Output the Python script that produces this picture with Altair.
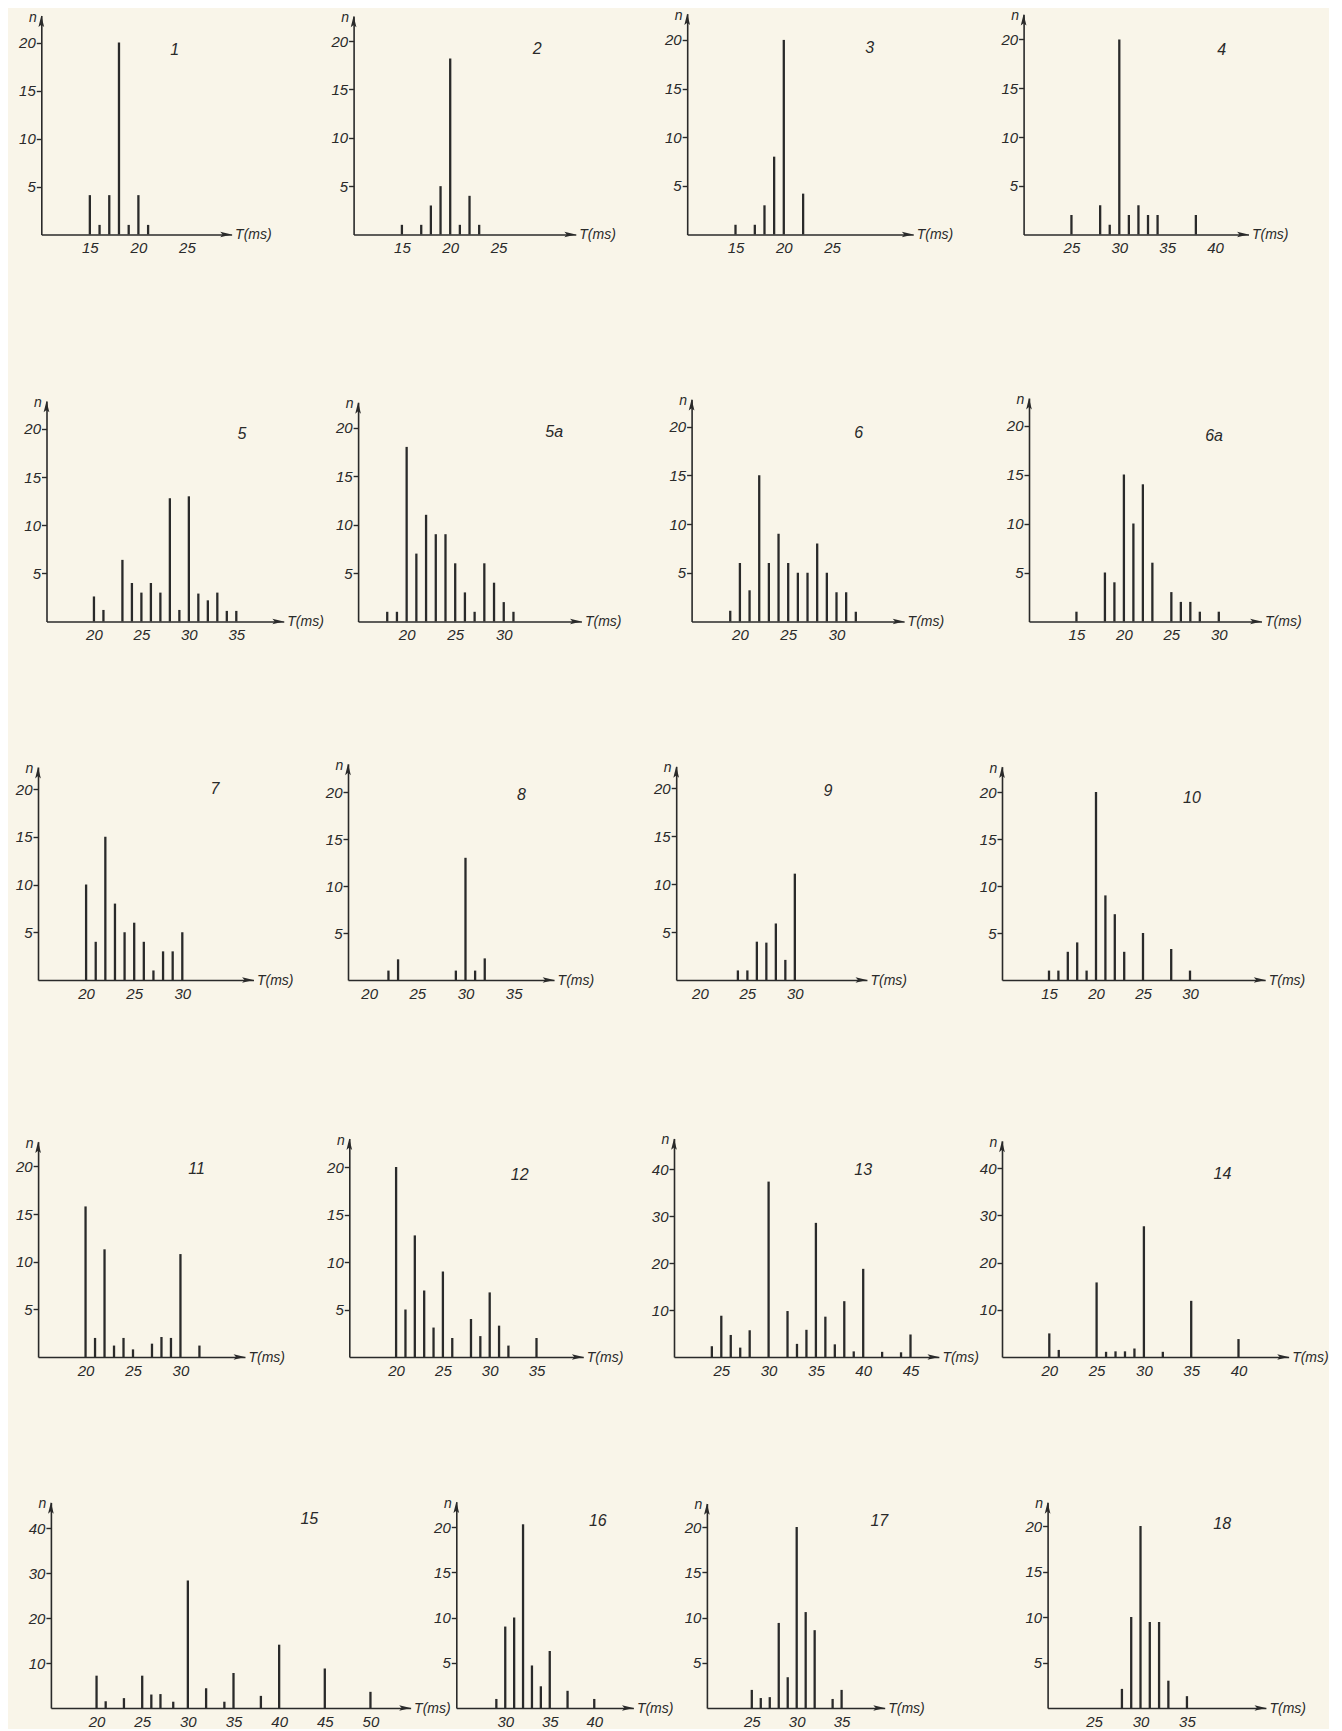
import altair as alt
import pandas as pd

# ---------------- data ----------------
names = ["1", "2", "3", "4", "5", "5a", "6", "6a", "7", "8",
         "9", "10", "11", "12", "13", "14", "15", "16", "17", "18"]

t1 = [15, 16, 17, 18, 19, 20, 21]
n1 = [4.1, 1, 4.1, 20, 1, 4.1, 1]
t2 = [15, 17, 18, 19, 20, 21, 22, 23]
n2 = [1, 1, 3, 5, 18.2, 1, 4, 1]
t3 = [15, 17, 18, 19, 20, 22]
n3 = [1, 1, 3, 8, 20, 4.2]
t4 = [25, 28, 29, 30, 31, 32, 33, 34, 38]
n4 = [2, 3, 1, 20, 2, 3, 2, 2, 2]
t5 = [20, 21, 23, 24, 25, 26, 27, 28, 29, 30, 31, 32, 33, 34, 35]
n5 = [2.6, 1.2, 6.4, 4, 3, 4, 3, 12.8, 1.2, 13, 2.9, 2.2, 3, 1.1, 1.1]
t5a = [18, 19, 20, 21, 22, 23, 24, 25, 26, 27, 28, 29, 30, 31]
n5a = [1, 1, 18, 7, 11, 9, 9, 6, 3, 1, 6, 4, 2, 1]
t6 = [19, 20, 21, 22, 23, 24, 25, 26, 27, 28, 29, 30, 31, 32]
n6 = [1.1, 6, 3.2, 15, 6, 9, 6, 5, 5, 8, 5, 3, 3, 1]
t6a = [15, 18, 19, 20, 21, 22, 23, 25, 26, 27, 28, 30]
n6a = [1, 5, 4, 15, 10, 14, 6, 3, 2, 2, 1, 1]
t7 = [20, 21, 22, 23, 24, 25, 26, 27, 28, 29, 30]
n7 = [10, 4, 15, 8, 5, 6, 4, 1, 3, 3, 5]
t8 = [22, 23, 29, 30, 31, 32]
n8 = [1, 2.2, 1, 13, 1, 2.3]
t9 = [24, 25, 26, 27, 28, 29, 30]
n9 = [1, 1, 4, 3.9, 5.9, 2.1, 11.1]
t10 = [15, 16, 17, 18, 19, 20, 21, 22, 23, 25, 28, 30]
n10 = [1, 1, 3, 4, 1, 20, 9, 7, 3, 5, 3.3, 1]
t11 = [20, 21, 22, 23, 24, 25, 27, 28, 29, 30, 32]
n11 = [15.8, 2, 11.3, 1.2, 2, 0.8, 1.4, 2.1, 2, 10.8, 1.2]
t12 = [20, 21, 22, 23, 24, 25, 26, 28, 29, 30, 31, 32, 35]
n12 = [20, 5, 12.8, 7, 3.1, 9, 2, 4, 2.2, 6.8, 3.3, 1.2, 2]
t13 = [24, 25, 26, 27, 28, 30, 32, 33, 34, 35, 36, 37, 38, 39, 40, 42, 44, 45]
n13 = [2.3, 8.8, 4.7, 2, 5.7, 37.4, 9.8, 2.8, 5.8, 28.6, 8.6, 2.7, 11.9, 1.2, 18.8, 1.1, 1, 4.8]
t14 = [20, 21, 25, 26, 27, 28, 29, 30, 32, 35, 40]
n14 = [5, 1.5, 15.8, 1.1, 1.2, 1.2, 1.8, 27.7, 1.1, 11.9, 3.8]
t15 = [20, 21, 23, 25, 26, 27, 28.4, 30, 32, 34, 35, 38, 40, 45, 50]
n15 = [7.2, 1.5, 2.2, 7.2, 3, 3.1, 1.4, 28.4, 4.4, 1.4, 7.8, 2.7, 14.1, 8.8, 3.6]
t16 = [29, 30, 31, 32, 33, 34, 35, 37, 40]
n16 = [1, 9, 10, 20.3, 4.7, 2.4, 6.3, 1.9, 1]
t17 = [25, 26, 27, 28, 29, 30, 31, 32, 34, 35]
n17 = [2, 1.1, 1.2, 9.4, 3.4, 20, 10.6, 8.6, 1, 2]
t18 = [28, 29, 30, 31, 32, 33, 35]
n18 = [2.1, 10, 20, 9.45, 9.45, 3, 1.3]

T_series = [t1, t2, t3, t4, t5, t5a, t6, t6a, t7, t8, t9, t10, t11, t12, t13, t14, t15, t16, t17, t18]
N_series = [n1, n2, n3, n4, n5, n5a, n6, n6a, n7, n8, n9, n10, n11, n12, n13, n14, n15, n16, n17, n18]

# axis extents (data units) = arrow tips
x_start = [10, 10, 10, 20, 15, 15, 15, 10, 15, 17.8, 17.5, 10, 15, 15, 20, 15, 15, 24.5, 20, 20]
x_end = [29.6, 33, 33.4, 43.5, 40, 38, 37, 34.5, 37.4, 39.2, 37.6, 38, 36.8, 40, 48, 45.3, 54.4, 44.4, 39.8, 43.5]
y_top = [22.8, 22.6, 22.7, 22.6, 22.9, 22.6, 22.8, 22.8, 22.3, 23, 22.3, 22.7,
         22.6, 23, 46.6, 45.8, 45.8, 22.8, 22.6, 22.6]

# tick labels
x_ticks = [[15, 20, 25], [15, 20, 25], [15, 20, 25], [25, 30, 35, 40],
           [20, 25, 30, 35], [20, 25, 30], [20, 25, 30], [15, 20, 25, 30],
           [20, 25, 30], [20, 25, 30, 35], [20, 25, 30], [15, 20, 25, 30],
           [20, 25, 30], [20, 25, 30, 35], [25, 30, 35, 40, 45], [20, 25, 30, 35, 40],
           [20, 25, 30, 35, 40, 45, 50], [30, 35, 40], [25, 30, 35], [25, 30, 35]]
y_ticks_20 = [5, 10, 15, 20]
y_ticks_40 = [10, 20, 30, 40]
y_ticks = [y_ticks_20] * 14 + [y_ticks_40, y_ticks_40, y_ticks_40] + [y_ticks_20] * 3

# ---------------- layout (pixels) ----------------
row_axis_y = [233.5, 620, 978, 1355, 1706]
axis_x = [[40.8, 353, 686.4, 1022],
          [46, 357.5, 690.8, 1027.4],
          [37.5, 347.4, 675.4, 1000.4],
          [37.6, 348.7, 673.2, 1000.4],
          [50.4, 455.7, 706.1, 1046]]
col_left = [37.5, 347.4, 673.2, 1000.4]
last_col_w = 290
px_per_ms = [9.71, 9.66, 9.66, 9.57, 9.49, 9.71, 9.66, 9.49, 9.62, 9.63,
             9.49, 9.40, 9.49, 9.36, 9.46, 9.46, 9.13, 8.9, 8.98, 9.29]
px_per_n = [9.6, 9.67, 9.73, 9.75, 9.63, 9.7, 9.75, 9.8, 9.55, 9.4,
            9.58, 9.4, 9.53, 9.5, 4.69, 4.72, 4.49, 9.05, 9.05, 9.1]
label_pos = [(23.75, 19.2), (29, 19.2), (28.9, 19.2), (40.7, 18.9),
             (35.6, 19.5), (35.2, 19.5), (32.3, 19.3), (29.5, 18.9),
             (33.4, 20), (35.8, 19.7), (33.5, 19.7), (30.2, 19.4),
             (31.7, 19.7), (33.2, 19.2), (40, 39.8), (38.3, 38.8),
             (43.3, 42), (40.4, 20.7), (39.2, 20.7), (38.8, 20.2)]

FONT = "Liberation Sans"
INK = "#2a2a2a"
PAPER = "#f9f5e9"
UP = "M0,0L0.6,2.4L0,1.9L-0.6,2.4Z"
RIGHT = "M0,0L-2.4,0.6L-1.9,0L-2.4,-0.6Z"


def make_panel(i, shift, cell_w, cell_h):
    pw = (x_end[i] - x_start[i]) * px_per_ms[i]
    ph = y_top[i] * px_per_n[i]
    top = cell_h - ph
    xs = alt.Scale(domain=[x_start[i], x_end[i]], range=[shift, shift + pw], nice=False, zero=False)
    ys = alt.Scale(domain=[0, y_top[i]], range=[cell_h, top], nice=False, zero=False)
    xax = alt.Axis(values=x_ticks[i], title="T(ms)", titleX=shift + pw + 3, titleY=0,
                   titleAlign="left", titleBaseline="middle", titleAngle=0,
                   ticks=False, labelPadding=6, labelFlush=False, labelOverlap=False,
                   grid=False, format="d")
    yax = alt.Axis(values=y_ticks[i], title="n", titleX=-9, titleY=top + 1.5,
                   titleAlign="center", titleBaseline="middle", titleAngle=0,
                   tickSize=5, labelPadding=1, labelFlush=False, labelOverlap=False,
                   grid=False, format="d", offset=-shift)

    def ex():
        return alt.X("T:Q", scale=xs, axis=xax, title="T(ms)")

    def ey():
        return alt.Y("n:Q", scale=ys, axis=yax, title="n")

    df = pd.DataFrame({"T": T_series[i], "n": N_series[i]})
    stems = alt.Chart(df).mark_rule(color=INK, strokeWidth=2.3).encode(
        x=ex(), y=ey(), y2=alt.datum(0))
    up = alt.Chart(pd.DataFrame({"T": [x_start[i]], "n": [y_top[i]]})).mark_point(
        shape=UP, size=90, filled=True, color=INK, opacity=1).encode(x=ex(), y=ey())
    right = alt.Chart(pd.DataFrame({"T": [x_end[i]], "n": [0]})).mark_point(
        shape=RIGHT, size=90, filled=True, color=INK, opacity=1).encode(x=ex(), y=ey())
    lab = alt.Chart(pd.DataFrame({"T": [label_pos[i][0]], "n": [label_pos[i][1]],
                                  "lbl": [names[i]]})).mark_text(
        font=FONT, fontSize=16, fontStyle="italic", color=INK,
        align="center", baseline="middle").encode(x=ex(), y=ey(), text="lbl:N")
    return alt.layer(stems, up, right, lab).properties(width=cell_w, height=cell_h)


cells = []
prev_y = 8
for r in range(5):
    cell_h = row_axis_y[r] - prev_y
    prev_y = row_axis_y[r]
    spacer = alt.Chart(pd.DataFrame({"s": [0]})).mark_point(opacity=0).encode(
        x=alt.X("s:Q", axis=None), y=alt.Y("s:Q", axis=None)
    ).properties(width=col_left[0] - 8, height=cell_h)
    cells.append(spacer)
    for c in range(4):
        i = r * 4 + c
        cw = (col_left[c + 1] - col_left[c]) if c < 3 else last_col_w
        shift = axis_x[r][c] - col_left[c]
        cells.append(make_panel(i, shift, cw, cell_h))

chart = alt.concat(*cells, columns=5, spacing=0, bounds="flush").properties(
    padding=0, background=PAPER
).configure_view(strokeWidth=0).configure_axis(
    labelFont=FONT, labelFontSize=15, labelFontStyle="italic", labelColor=INK,
    titleFont=FONT, titleFontSize=14, titleFontStyle="italic", titleFontWeight="normal",
    titleColor=INK, tickColor=INK, tickWidth=1.4, domainColor=INK, domainWidth=1.6
)

chart.save("out.html", embed_options={"renderer": "svg", "actions": False})
